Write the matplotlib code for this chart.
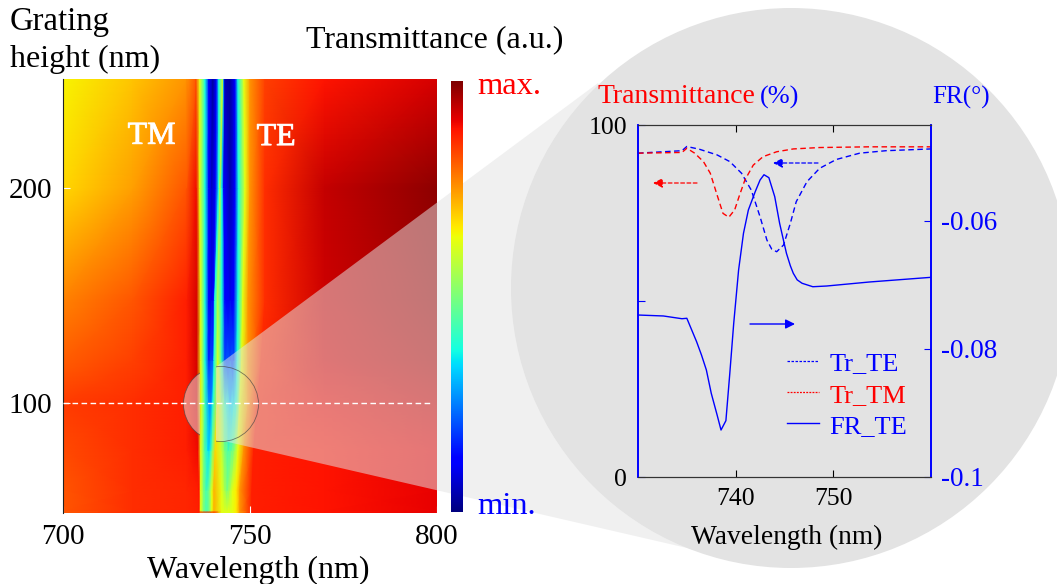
import numpy as np
import matplotlib
matplotlib.use("Agg")
import matplotlib.pyplot as plt
import matplotlib.patheffects as pe
from matplotlib.lines import Line2D
from matplotlib.patches import Circle, Polygon, Rectangle
from matplotlib.transforms import Affine2D

plt.rcParams['font.family'] = ['Liberation Serif', 'DejaVu Serif']

W, H = 1057, 584

# heat map knots, one row per grating height, stripes move with height
heights = [49, 50.2, 59.5, 78, 100, 120, 148, 200, 250.7]
wl_rows = [
    [700, 718.7, 733, 736.4, 736.8, 737.6, 738.2, 738.5, 739.0, 739.8, 740.4, 742.4, 743.2, 743.9, 744.6, 745.3, 746.3, 747.3, 750.5, 770, 800],
    [700, 718.7, 733, 736.4, 736.8, 737.6, 738.2, 738.5, 739.0, 739.8, 740.4, 742.4, 743.2, 743.9, 744.6, 745.3, 746.3, 747.3, 750.5, 770, 800],
    [700, 718.7, 733, 736.4, 736.8, 737.6, 738.2, 738.5, 739.0, 739.8, 740.4, 742.4, 743.2, 743.9, 744.6, 745.3, 746.3, 747.3, 750.5, 770, 800],
    [700, 718.7, 733, 736.1, 736.85, 737.8, 738.7, 739.0, 739.4, 739.9, 740.7, 742.3, 743.2, 744.2, 745.0, 745.8, 746.8, 748.3, 751.0, 770, 800],
    [700, 718.7, 733, 735.8, 736.9, 738.0, 739.0, 739.4, 739.8, 740.1, 741.4, 742.3, 743.3, 744.7, 745.7, 746.5, 747.3, 749.5, 752.0, 770, 800],
    [700, 718.7, 733, 735.8, 736.85, 738.0, 739.0, 739.6, 740.1, 740.4, 741.4, 742.4, 743.3, 744.7, 745.7, 746.6, 747.8, 749.5, 753, 770, 800],
    [700, 718.7, 733, 735.8, 736.8, 738.0, 739.0, 739.8, 740.3, 740.6, 741.4, 742.5, 743.3, 744.7, 745.7, 746.8, 748.1, 749.5, 754, 770, 800],
    [700, 718.7, 733, 735.7, 736.6, 738.0, 739.0, 739.8, 740.8, 741.6, 742.0, 742.5, 743.0, 744.7, 746.0, 746.9, 748.7, 750.0, 754, 770, 800],
    [700, 718.7, 733, 735.6, 736.6, 738.0, 739.0, 740.1, 741.0, 741.7, 742.7, 743.0, 743.3, 744.7, 746.0, 746.8, 748.4, 750.0, 754, 770, 800],
]
trans_rows = [
    [.82, .86, .87, .875, .87, .87, .87, .87, .87, .87, .87, .625, .62, .62, .62, .625, .66, .75, .875, .89, .91],
    [.82, .86, .87, .875, .625, .50, .45, .45, .48, .625, .72, .625, .62, .62, .62, .625, .66, .75, .875, .89, .91],
    [.82, .86, .87, .88, .625, .50, .45, .45, .48, .625, .72, .625, .56, .50, .56, .625, .66, .75, .875, .89, .91],
    [.83, .86, .875, .90, .625, .46, .36, .34, .38, .50, .68, .60, .50, .44, .47, .52, .63, .75, .875, .89, .91],
    [.845, .86, .875, .92, .625, .42, .28, .25, .30, .375, .66, .56, .42, .33, .36, .42, .625, .75, .875, .90, .93],
    [.81, .84, .875, .925, .625, .375, .16, .20, .20, .375, .62, .42, .20, .20, .20, .375, .625, .75, .87, .92, .955],
    [.77, .82, .875, .925, .625, .375, .125, .10, .125, .375, .56, .375, .125, .10, .125, .375, .625, .75, .86, .93, .97],
    [.68, .74, .82, .90, .625, .375, .125, .06, .125, .375, .56, .375, .125, .04, .125, .375, .625, .75, .86, .94, .985],
    [.65, .70, .75, .82, .625, .375, .125, .03, .125, .375, .625, .25, .05, .03, .125, .375, .625, .75, .84, .89, .925],
]

# inset curves
wl_tm = [730, 734.5, 735.0, 735.8, 736.7, 737.4, 738.1, 738.7, 739.3, 739.9, 740.4, 740.95, 741.8, 742.8, 744.2, 745.9, 748.6, 753.7, 760]
tr_tm = [92, 92.2, 93.4, 92, 89.6, 86.3, 80.1, 74.9, 73.8, 75.9, 80.1, 84.4, 88.6, 91, 92.4, 93.2, 93.6, 93.8, 93.8]
wl_te = [730, 734.5, 735.0, 736.3, 738.1, 739.4, 740.6, 741.6, 742.5, 743.2, 743.7, 744.2, 744.9, 745.6, 746.2, 747.3, 748.6, 750.3, 752.7, 755.4, 760]
tr_te = [92, 92.7, 93.9, 93.1, 91.5, 89.6, 86.3, 81.5, 73.9, 67.3, 64.7, 64, 65.9, 72.1, 78.2, 83.9, 87.7, 90.2, 92, 92.7, 93.2]
wl_fr = [730, 732.6, 734.5, 735.0, 736.0, 736.5, 737.0, 737.5, 738.1, 738.5, 739.0, 739.4, 739.8, 740.1, 740.3, 740.8, 741.3, 742.0, 742.5, 742.9, 743.4, 744.0, 744.5, 745.2, 745.6, 745.9, 746.3, 746.8, 747.9, 749.3, 753.7, 760]
fr_te = [-0.07469, -0.07484, -0.07527, -0.0752, -0.07886, -0.08094, -0.08328, -0.08692, -0.09031, -0.09266, -0.0912, -0.0838, -0.076, -0.071, -0.06766, -0.06192, -0.05828, -0.05542, -0.05359, -0.05277, -0.05323, -0.0562, -0.06036, -0.06505, -0.0670, -0.06817, -0.0692, -0.06973, -0.07027, -0.07016, -0.06953, -0.0688]

FS = 21
FS_LABEL = 23
FS2 = 18.5
BLUE = '#0000ff'
RED = '#ff0000'
GREY = '#e3e3e3'


def ax_box(x0, y0, x1, y1):
    # pixel box, y counted from the top
    return [x0 / W, 1 - y1 / H, (x1 - x0) / W, (y1 - y0) / H]


fig = plt.figure(figsize=(W / 100, H / 100), dpi=100)
px = Affine2D().scale(1, -1).translate(0, H)

# big grey lens behind everything
fig.add_artist(Circle((791, 288), 280, fc=GREY, ec='none', transform=px, zorder=-5))

# heat map
ax = fig.add_axes(ax_box(63, 79, 437, 513), zorder=1)
X = np.array(wl_rows)
Y = np.tile(np.array(heights)[:, None], (1, X.shape[1]))
Z = np.array(trans_rows)
ax.pcolormesh(X, Y, Z, cmap='jet', vmin=0, vmax=1, shading='gouraud', zorder=1)
ax.set_xlim(700, 800)
ax.set_ylim(49, 250.7)
ax.set_xticks([700, 750, 800])
ax.set_yticks([100, 200])
ax.tick_params(direction='in', color='white', length=5, width=0.8, labelsize=FS, pad=8)
for s in ['top', 'right', 'bottom']:
    ax.spines[s].set_visible(False)
ax.spines['left'].set_color('#222222')
ax.spines['left'].set_linewidth(0.8)
ax.set_xlabel('Wavelength (nm)', fontsize=FS_LABEL, labelpad=1)
ax.xaxis.set_label_coords(0.523, -0.099)

# see-through cone from the small circle to the lens
ang = np.radians(np.linspace(84, 262, 60))
arc = np.c_[221 + 37.5 * np.cos(ang), 404 + 37.5 * np.sin(ang)]
cone = np.vstack([[[700, 300], [700, 551]], arc, [[598, 83]]])
ax.add_patch(Polygon(cone, closed=True, fc=GREY, ec='none', alpha=0.52,
                     transform=px, clip_on=False, zorder=3))
ax.add_patch(Circle((221, 404), 37.5, fc='none', ec='#444444', lw=0.6, alpha=0.7,
                    transform=px, zorder=4))

# TM stripe stays saturated over the cone
top = ax.pcolormesh(X, Y, Z, cmap='jet', vmin=0, vmax=1, shading='gouraud', zorder=5)
top.set_clip_path(Rectangle((736.7, 70), 4.1, 60, transform=ax.transData))

ax.plot([700, 799], [100, 100], color='white', lw=1, dashes=(4, 2.5), zorder=6)
bold_edge = [pe.withStroke(linewidth=0.6, foreground='white')]
ax.text(0.237, 0.868, 'TM', color='white', fontsize=FS + 2, ha='center', va='center',
        transform=ax.transAxes, zorder=6, path_effects=bold_edge)
ax.text(0.57, 0.865, 'TE', color='white', fontsize=FS + 2, ha='center', va='center',
        transform=ax.transAxes, zorder=6, path_effects=bold_edge)

# colour bar
cax = fig.add_axes(ax_box(451, 81, 463, 512), zorder=2)
cax.imshow(np.linspace(1, 0, 256)[:, None], cmap='jet', aspect='auto', vmin=0, vmax=1)
cax.set_xticks([])
cax.set_yticks([])
for s in cax.spines.values():
    s.set_visible(False)

# inset
ax2 = fig.add_axes(ax_box(638, 125, 931, 477), zorder=3)
ax2.patch.set_visible(False)
line_te, = ax2.plot(wl_te, tr_te, color=BLUE, lw=1, dashes=(4, 2.5))
line_tm, = ax2.plot(wl_tm, tr_tm, color=RED, lw=1, dashes=(4, 2.5))
ax2.set_xlim(730, 760)
ax2.set_ylim(0, 100)
ax2.set_xticks([740, 750])
ax2.set_yticks([0, 50, 100])
ax2.set_yticklabels(['0', '', '100'])
ax2.tick_params(axis='x', direction='in', top=True, length=5, width=0.8, labelsize=FS2, pad=8)
ax2.tick_params(axis='y', direction='in', length=5, width=0.8, color=BLUE, labelsize=FS2, pad=8)
ax2.set_xlabel('Wavelength (nm)', fontsize=19.8, labelpad=8)
ax2.xaxis.set_label_coords(0.506, -0.135)

ax3 = ax2.twinx()
line_fr, = ax3.plot(wl_fr, fr_te, color=BLUE, lw=1)
ax3.set_ylim(-0.1, -0.045)
ax3.set_yticks([-0.1, -0.08, -0.06])
ax3.set_yticklabels(['-0.1', '-0.08', '-0.06'], color=BLUE)
ax3.tick_params(axis='y', direction='in', length=5, width=0.8, color=BLUE, labelsize=FS2 + 1, pad=7)
for a in [ax2, ax3]:
    a.spines['left'].set_color(BLUE)
    a.spines['right'].set_color(BLUE)
    a.spines['left'].set_linewidth(1.2)
    a.spines['right'].set_linewidth(1.2)
    a.spines['top'].set_color('#333333')
    a.spines['bottom'].set_color('#333333')
    a.spines['top'].set_linewidth(0.8)
    a.spines['bottom'].set_linewidth(0.8)

leg_te = Line2D([], [], color=BLUE, lw=0.9, dashes=(2, 1.2))
leg_tm = Line2D([], [], color=RED, lw=0.9, dashes=(1.5, 1))
ax3.legend([leg_te, leg_tm, line_fr], ['Tr_TE', 'Tr_TM', 'FR_TE'], frameon=False,
           labelcolor=[BLUE, RED, BLUE], fontsize=19, loc='upper left',
           bbox_to_anchor=(787, 352), bbox_transform=px, borderpad=0, borderaxespad=0,
           handlelength=1.22, handletextpad=0.38, labelspacing=0.29)

# direction arrows
ax3.annotate('', xy=(653, 183), xytext=(697, 183), xycoords=px, textcoords=px,
             arrowprops=dict(arrowstyle='-|>', color=RED, lw=0.9, ls=(0, (3, 2)), mutation_scale=14, shrinkA=0, shrinkB=0))
ax3.annotate('', xy=(773, 163), xytext=(818, 163), xycoords=px, textcoords=px,
             arrowprops=dict(arrowstyle='-|>', color=BLUE, lw=0.9, ls=(0, (3, 2)), mutation_scale=14, shrinkA=0, shrinkB=0))
ax3.annotate('', xy=(795, 324), xytext=(750, 324), xycoords=px, textcoords=px,
             arrowprops=dict(arrowstyle='-|>', color=BLUE, lw=1, mutation_scale=14, shrinkA=0, shrinkB=0))

# loose labels
def label(x, y, s, size=FS_LABEL, color='black', ha='left'):
    fig.text(x / W, 1 - y / H, s, fontsize=size, color=color, ha=ha, va='center')


label(10, 22, 'Grating', size=23.6)
label(10, 59, 'height (nm)')
label(306, 40, 'Transmittance (a.u.)')
label(477, 87, 'max.', size=23.4, color=RED)
label(477, 506, 'min.', size=23.4, color=BLUE)
label(597, 97, 'Transmittance', size=20, color=RED)
label(760, 97, '(%)', size=19, color=BLUE)
label(932, 97, 'FR(°)', size=18, color=BLUE)

fig.savefig('out.png', dpi=100)
